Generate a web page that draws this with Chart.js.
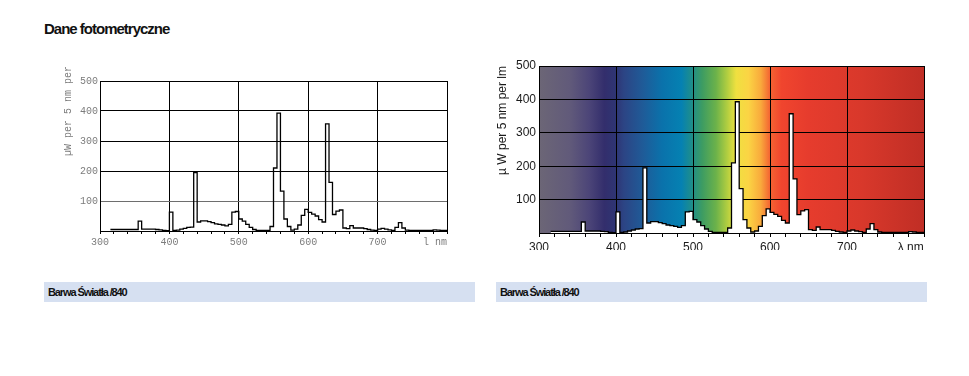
<!DOCTYPE html>
<html>
<head>
<meta charset="utf-8">
<script src="https://cdn.jsdelivr.net/npm/chart.js@4"></script>
<style>
  body { margin: 0; background: #fff; width: 969px; height: 376px; position: relative; overflow: hidden; }
  .heading { position: absolute; left: 44px; top: 19px; font: bold 15px 'Liberation Sans', Arial, sans-serif; line-height: 20px; letter-spacing: -1px; color: #111; }
  .band { position: absolute; top: 282px; height: 20px; width: 431px; background: #d6e0f1; font: bold 11px 'Liberation Sans', Arial, sans-serif; line-height: 20px; letter-spacing: -1.1px; color: #111; padding-left: 4px; box-sizing: border-box; }
  canvas { position: absolute; }
</style>
</head>
<body>
<div class="heading">Dane fotometryczne</div>
<canvas id="mono" width="437" height="200" style="left:40px;top:60px"></canvas>
<canvas id="color" width="464" height="200" style="left:490px;top:50px"></canvas>
<div class="band" style="left:44px">Barwa Światła /840</div>
<div class="band" style="left:496px">Barwa Światła /840</div>
<script>
// wavelength of each 5 nm bin start (nm) and the spectral power in it
const wavelengths = [
  315, 320, 325, 330, 335, 340, 345, 350, 355, 360, 365, 370, 375, 380, 385, 390, 395,
  400, 405, 410, 415, 420, 425, 430, 435, 440, 445, 450, 455, 460, 465, 470, 475, 480, 485, 490, 495,
  500, 505, 510, 515, 520, 525, 530, 535, 540, 545, 550, 555, 560, 565, 570, 575, 580, 585, 590, 595,
  600, 605, 610, 615, 620, 625, 630, 635, 640, 645, 650, 655, 660, 665, 670, 675, 680, 685, 690, 695,
  700, 705, 710, 715, 720, 725, 730, 735, 740, 745, 750, 755, 760, 765, 770, 775, 780, 785, 790, 795, 800
];
const power = [
  5, 5, 5, 5, 5, 5, 5, 5, 33, 6, 6, 6, 6, 5, 4, 2, 1,
  63, 2, 3, 6, 9, 12, 13, 195, 30, 34, 34, 31, 28, 24, 22, 20, 17, 22, 63, 65,
  40, 33, 22, 12, 5, 2, 2, 2, 2, 15, 210, 393, 133, 40, 15, 3, 6, 20, 52, 72,
  62, 56, 50, 38, 30, 357, 162, 55, 66, 70, 10, 8, 18, 10, 10, 10, 8, 5, 3, 2,
  6, 9, 6, 4, 2, 12, 28, 10, 3, 2, 2, 2, 2, 2, 2, 2, 4, 3, 2, 2, 2
];
const xTicks = [300, 400, 500, 600, 700];
const yTicks = [100, 200, 300, 400, 500];

// colour band behind the right chart
const spectrumStops = [
  [300, '#6c6676'], [340, '#615a7a'], [365, '#4c4578'], [385, '#332e6c'], [400, '#2e3574'],
  [410, '#2c4484'], [435, '#1f5b98'], [460, '#0a72ab'], [485, '#0581b2'], [498, '#1e8d8c'],
  [512, '#3d9c62'], [530, '#6cb24a'], [545, '#b4cf40'], [556, '#efe040'], [572, '#fbd444'],
  [588, '#f9aa3c'], [600, '#f46432'], [615, '#f0452e'], [650, '#e63c2d'], [720, '#d8382b'],
  [800, '#c02e25']
];

const points = wavelengths.map((w, i) => ({ x: w, y: power[i] }));

const spectrumBackground = {
  id: 'spectrumBackground',
  beforeDraw(chart, args, opts) {
    if (!opts.stops) return;
    const { ctx, chartArea: a, scales: { x } } = chart;
    const g = ctx.createLinearGradient(a.left, 0, a.right, 0);
    opts.stops.forEach(([nm, c]) => {
      g.addColorStop((x.getPixelForValue(nm) - a.left) / (a.right - a.left), c);
    });
    ctx.save();
    ctx.fillStyle = g;
    ctx.fillRect(a.left, a.top, a.right - a.left, a.bottom - a.top);
    ctx.restore();
  }
};

function makeChart(id, cfg) {
  return new Chart(document.getElementById(id), {
    type: 'line',
    data: {
      datasets: [{
        data: points,
        stepped: true,
        borderColor: '#000',
        borderWidth: cfg.lineWidth,
        pointRadius: 0,
        fill: cfg.fill ? 'origin' : false,
        backgroundColor: '#fff'
      }]
    },
    options: {
      responsive: false,
      animation: false,
      devicePixelRatio: 1,
      layout: { padding: cfg.padding },
      plugins: {
        legend: { display: false },
        tooltip: { enabled: false },
        spectrumBackground: { stops: cfg.stops }
      },
      scales: {
        x: {
          type: 'linear',
          min: 300,
          max: 800,
          afterFit(s) { s.height = cfg.xHeight; },
          ticks: {
            stepSize: 20,
            autoSkip: false,
            maxRotation: 0,
            padding: cfg.xPad,
            color: cfg.tickColor,
            font: cfg.font,
            callback: v => v === 800 ? cfg.unit : (xTicks.includes(v) ? String(v) : '')
          },
          grid: {
            color: c => (c.tick && c.tick.value % 100 === 0) ? '#000' : 'rgba(0,0,0,0)',
            tickColor: '#000',
            tickLength: cfg.tickLen,
            lineWidth: 1
          },
          border: { color: '#000', z: 1 }
        },
        y: {
          min: 0,
          max: 500,
          afterFit(s) { s.width = cfg.yWidth; },
          ticks: {
            stepSize: 100,
            padding: cfg.yPad,
            color: cfg.tickColor,
            font: cfg.font,
            callback: v => yTicks.includes(v) ? String(v) : ''
          },
          grid: {
            drawTicks: false,
            color: c => (c.tick && c.tick.value === 100) ? cfg.grid100 : '#000',
            lineWidth: 1
          },
          border: { color: '#000', z: 1 },
          title: {
            display: true,
            text: cfg.yTitle,
            align: cfg.titleAlign,
            color: cfg.tickColor,
            font: cfg.font,
            padding: { top: cfg.titlePad, bottom: 0 }
          }
        }
      }
    },
    plugins: [spectrumBackground]
  });
}

makeChart('mono', {
  lineWidth: 1.3,
  fill: false,
  padding: { top: 21, right: 30, left: 0, bottom: 0 },
  xHeight: 29,
  yWidth: 60,
  xPad: 2,
  yPad: 2,
  tickLen: 3,
  tickColor: '#7c7c7c',
  font: { family: "'Liberation Mono', 'Courier New', monospace", size: 10 },
  unit: 'l nm    ',
  grid100: '#6e6e6e',
  yTitle: '               µW per 5 nm per',
  titleAlign: 'center',
  titlePad: 22,
  stops: null
});

makeChart('color', {
  lineWidth: 1.3,
  fill: true,
  padding: { top: 16, right: 30, left: 0, bottom: 0 },
  xHeight: 17,
  yWidth: 49,
  xPad: 3,
  yPad: 3,
  tickLen: 4,
  tickColor: '#1a1a1a',
  font: { family: "'Liberation Sans', Arial, sans-serif", size: 12 },
  unit: 'λ nm        ',
  grid100: '#000',
  yTitle: 'µ W per 5 nm per lm',
  titleAlign: 'end',
  titlePad: 5,
  stops: spectrumStops
});
</script>
</body>
</html>
